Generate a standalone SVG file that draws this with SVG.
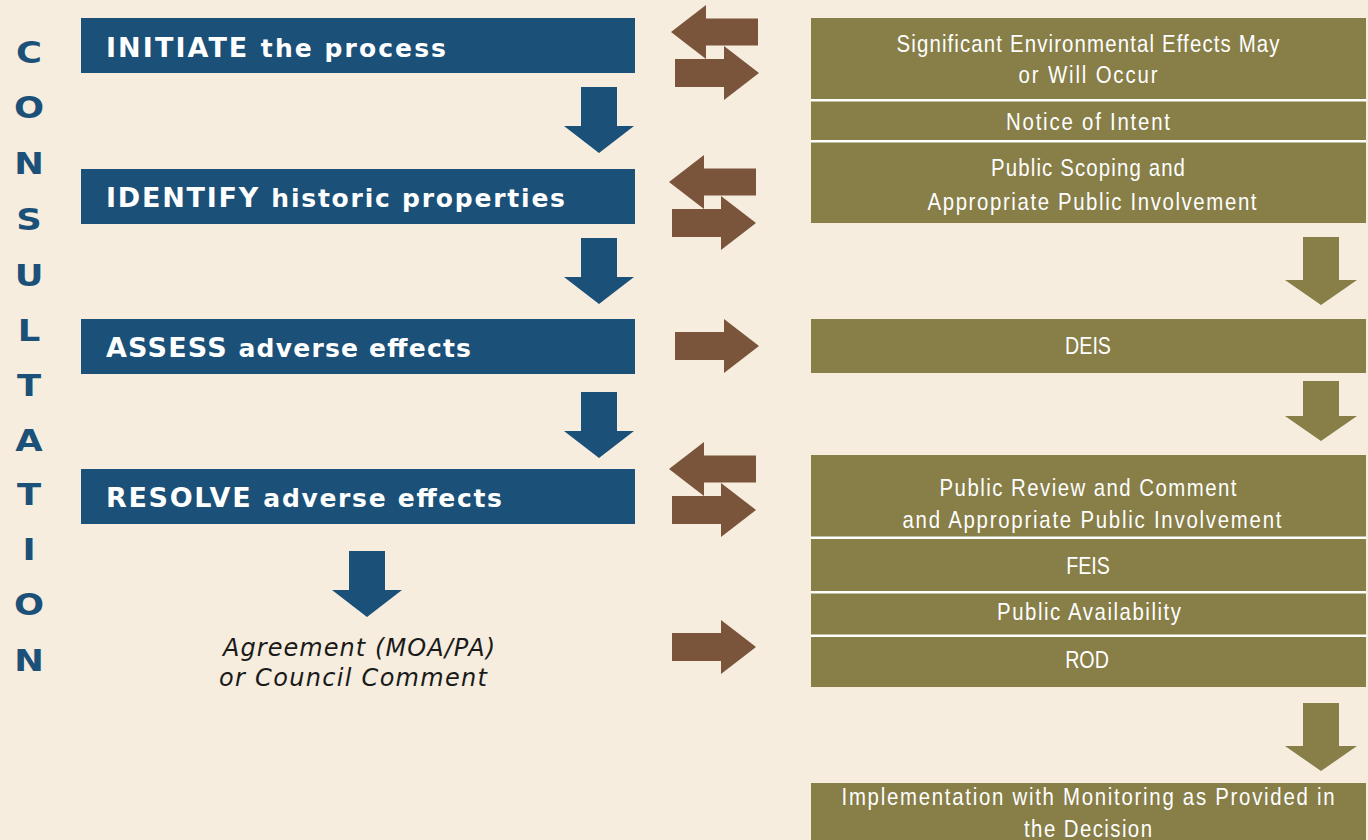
<svg xmlns="http://www.w3.org/2000/svg" width="1368" height="840" viewBox="0 0 1368 840">
<style>
.bg{fill:#F6EDDE}
.blue{fill:#1B5078}
.olive{fill:#877E48}
.brown{fill:#7A543B}
.sep{fill:#FFFFFF}
.bt{font-family:"DejaVu Sans","Liberation Sans",sans-serif;font-weight:700;font-size:27px;fill:#FFFFFF}
.lc{font-size:25px}
.ot{font-family:"Liberation Sans",Arial,sans-serif;font-size:24px;fill:#FFFFFF;text-anchor:middle}
.ct{font-family:"DejaVu Sans","Liberation Sans",sans-serif;font-weight:700;font-size:30px;fill:#1B5078;text-anchor:middle}
.it{font-family:"DejaVu Sans","Liberation Sans",sans-serif;font-style:italic;font-size:24px;fill:#1A1A1A}
</style>
<defs>
<polygon id="ra" points="0,-14 49,-14 49,-27 84,0 49,27 49,14 0,14"/>
<polygon id="la" points="0,0 35,-27 35,-13.5 87,-13.5 87,13.5 35,13.5 35,27"/>
<polygon id="bd" points="-18,0 18,0 18,39 35,39 0,66 -35,39 -18,39"/>
<polygon id="od" points="-18,0 18,0 18,43 36,43 0,68 -36,43 -18,43"/>
</defs>
<rect class="bg" x="0" y="0" width="1368" height="840"/>

<g id="consultation">
<text class="ct" transform="translate(29,63) scale(1.18,1.03)">C</text>
<text class="ct" transform="translate(29,118) scale(1.18,1.03)">O</text>
<text class="ct" transform="translate(29,174) scale(1.18,1.03)">N</text>
<text class="ct" transform="translate(29,230) scale(1.18,1.03)">S</text>
<text class="ct" transform="translate(29,286) scale(1.18,1.03)">U</text>
<text class="ct" transform="translate(29,341) scale(1.18,1.03)">L</text>
<text class="ct" transform="translate(29,396) scale(1.18,1.03)">T</text>
<text class="ct" transform="translate(29,451) scale(1.18,1.03)">A</text>
<text class="ct" transform="translate(29,505) scale(1.18,1.03)">T</text>
<text class="ct" transform="translate(29,560) scale(1.18,1.03)">I</text>
<text class="ct" transform="translate(29,615) scale(1.18,1.03)">O</text>
<text class="ct" transform="translate(29,671) scale(1.18,1.03)">N</text>
</g>

<g id="initiate">
<rect class="blue" x="81" y="18" width="554" height="55"/>
<text class="bt" x="106" y="57" textLength="340" lengthAdjust="spacing">INITIATE <tspan class="lc">the process</tspan></text>
</g>
<g id="identify">
<rect class="blue" x="81" y="169" width="554" height="55"/>
<text class="bt" x="106" y="207" textLength="459" lengthAdjust="spacing">IDENTIFY <tspan class="lc">historic properties</tspan></text>
</g>
<g id="assess">
<rect class="blue" x="81" y="319" width="554" height="55"/>
<text class="bt" x="106" y="357" textLength="365" lengthAdjust="spacing">ASSESS <tspan class="lc">adverse effects</tspan></text>
</g>
<g id="resolve">
<rect class="blue" x="81" y="469" width="554" height="55"/>
<text class="bt" x="106" y="507" textLength="396" lengthAdjust="spacing">RESOLVE <tspan class="lc">adverse effects</tspan></text>
</g>
<g id="agreement">
<text class="it" x="223" y="656" textLength="272" lengthAdjust="spacing">Agreement (MOA/PA)</text>
<text class="it" x="219" y="686" textLength="268" lengthAdjust="spacing">or Council Comment</text>
</g>

<g id="nepa-start">
<rect class="olive" x="811" y="18" width="555" height="205"/>
<rect class="sep" x="811" y="99" width="555" height="2.5"/>
<rect class="sep" x="811" y="140" width="555" height="2.5"/>
<text class="ot" transform="translate(1088,52) scale(0.85,1)" textLength="450.6" lengthAdjust="spacing">Significant Environmental Effects May</text>
<text class="ot" transform="translate(1088,83) scale(0.85,1)" textLength="163.5" lengthAdjust="spacing">or Will Occur</text>
<text class="ot" transform="translate(1088,130) scale(0.85,1)" textLength="192.9" lengthAdjust="spacing">Notice of Intent</text>
<text class="ot" transform="translate(1088,176) scale(0.85,1)" textLength="228.2" lengthAdjust="spacing">Public Scoping and</text>
<text class="ot" transform="translate(1092,210) scale(0.85,1)" textLength="387.1" lengthAdjust="spacing">Appropriate Public Involvement</text>
</g>
<g id="deis">
<rect class="olive" x="811" y="319" width="555" height="54"/>
<text class="ot" transform="translate(1088,354) scale(0.82,1)">DEIS</text>
</g>
<g id="nepa-review">
<rect class="olive" x="811" y="455" width="555" height="232"/>
<rect class="sep" x="811" y="536.5" width="555" height="2.5"/>
<rect class="sep" x="811" y="591" width="555" height="2.5"/>
<rect class="sep" x="811" y="634.5" width="555" height="2.5"/>
<text class="ot" transform="translate(1088,496) scale(0.85,1)" textLength="349.4" lengthAdjust="spacing">Public Review and Comment</text>
<text class="ot" transform="translate(1092,528) scale(0.85,1)" textLength="445.9" lengthAdjust="spacing">and Appropriate Public Involvement</text>
<text class="ot" transform="translate(1088,574) scale(0.82,1)">FEIS</text>
<text class="ot" transform="translate(1089,620) scale(0.85,1)" textLength="216.5" lengthAdjust="spacing">Public Availability</text>
<text class="ot" transform="translate(1087,668) scale(0.82,1)">ROD</text>
</g>
<g id="implementation">
<rect class="olive" x="811" y="783" width="555" height="57"/>
<text class="ot" transform="translate(1088,805) scale(0.85,1)" textLength="580" lengthAdjust="spacing">Implementation with Monitoring as Provided in</text>
<text class="ot" transform="translate(1088,837) scale(0.85,1)" textLength="150.6" lengthAdjust="spacing">the Decision</text>
</g>

<g id="connectors">
<use href="#bd" class="blue" x="599" y="87"/>
<use href="#bd" class="blue" x="599" y="238"/>
<use href="#bd" class="blue" x="599" y="392"/>
<use href="#bd" class="blue" x="367" y="551"/>
<use href="#od" class="olive" x="1321" y="237"/>
<polygon class="olive" points="1303,381 1339,381 1339,416 1357,416 1321,441 1285,416 1303,416"/>
<use href="#od" class="olive" x="1321" y="703"/>
<use href="#la" class="brown" x="671" y="32"/>
<use href="#ra" class="brown" x="675" y="73"/>
<use href="#la" class="brown" x="669" y="182"/>
<use href="#ra" class="brown" x="672" y="223"/>
<use href="#ra" class="brown" x="675" y="346"/>
<use href="#la" class="brown" x="669" y="469"/>
<use href="#ra" class="brown" x="672" y="510"/>
<use href="#ra" class="brown" x="672" y="647"/>
</g>
</svg>
